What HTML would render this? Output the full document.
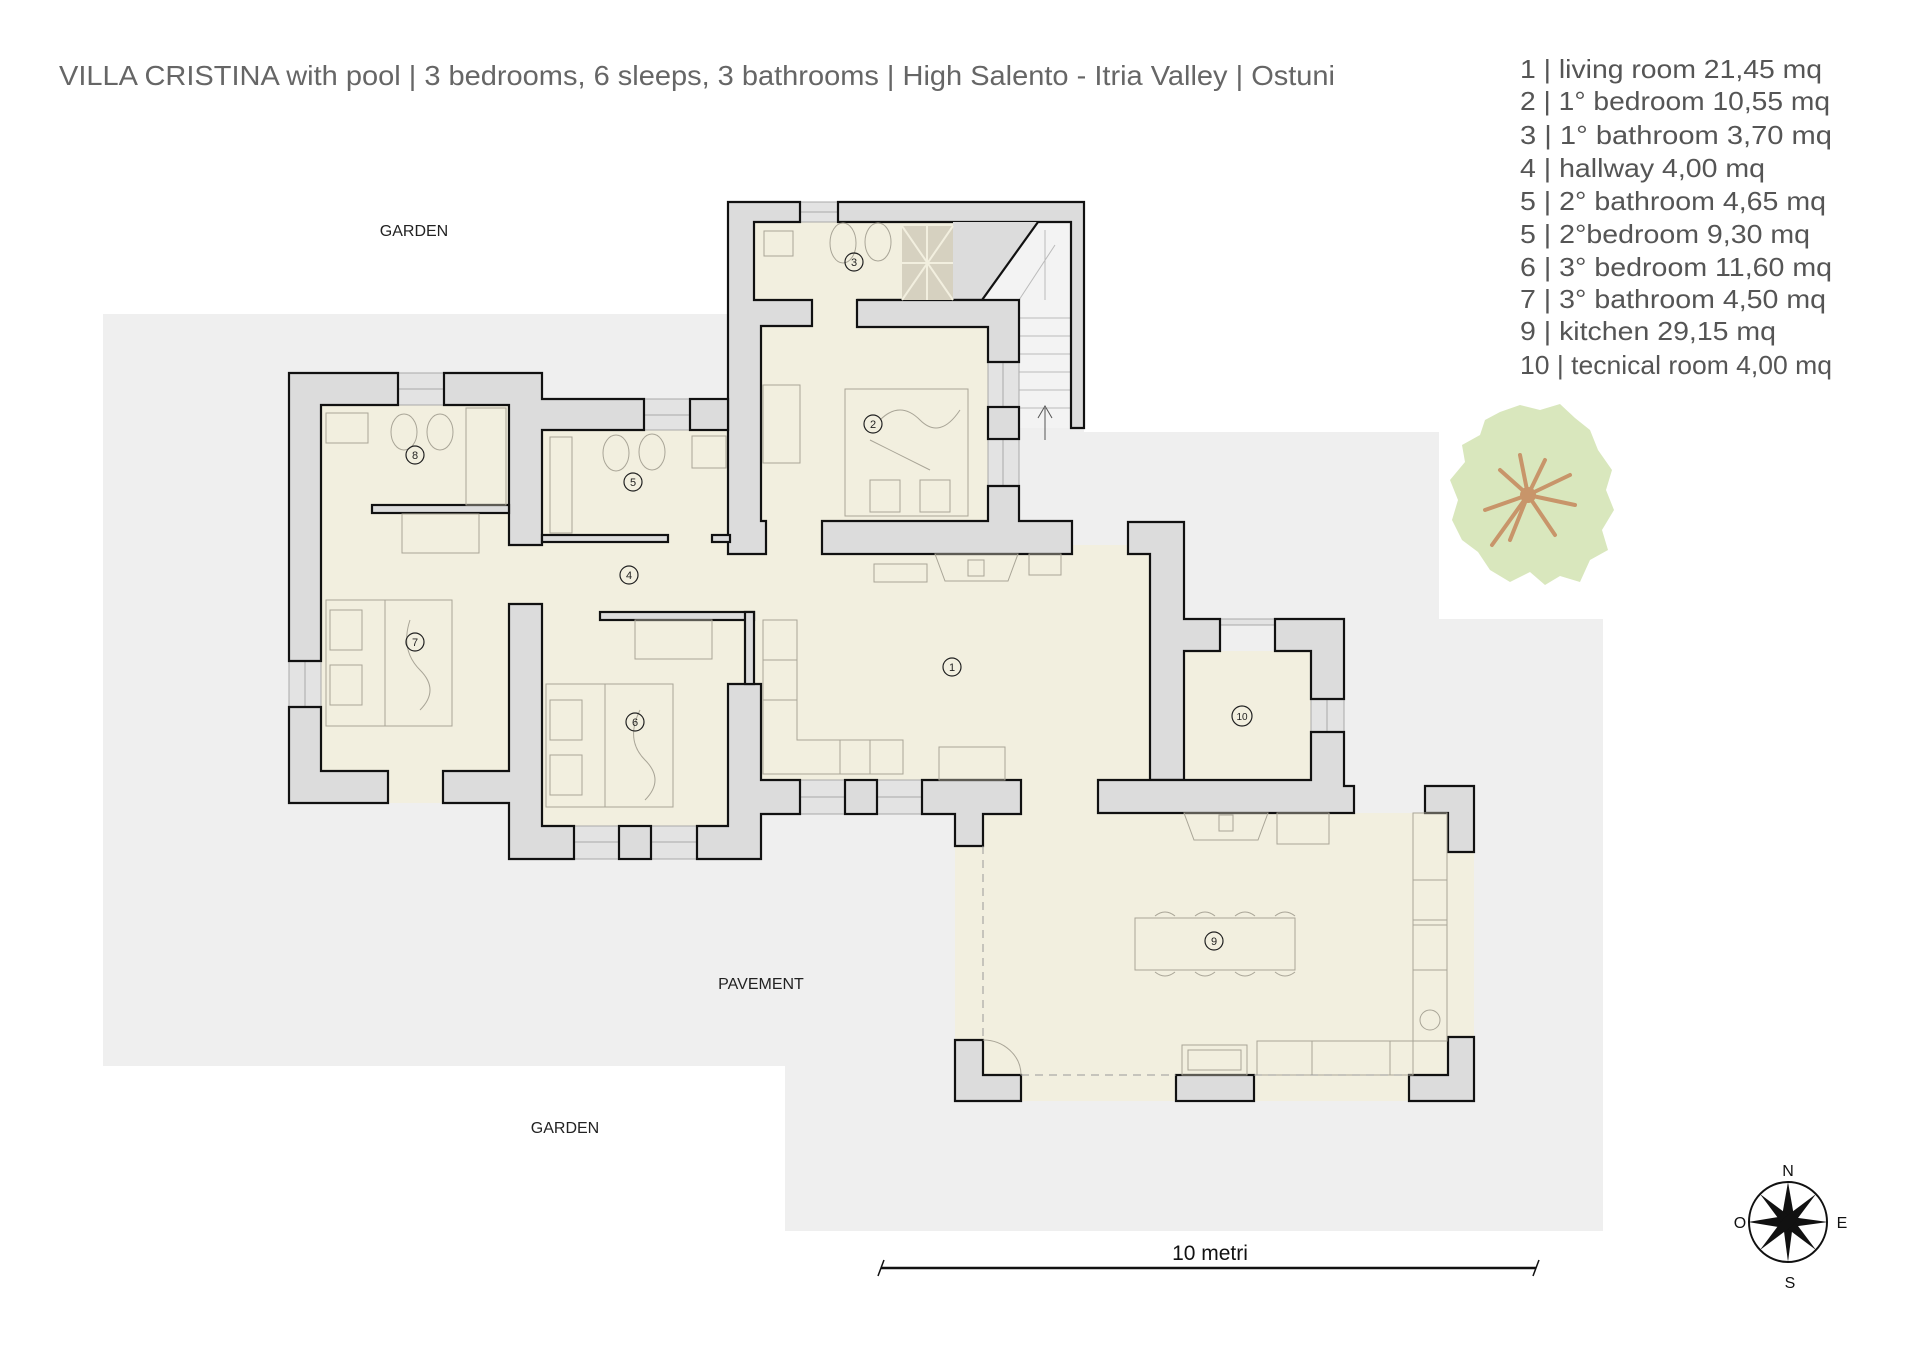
<!DOCTYPE html>
<html><head><meta charset="utf-8"><style>
html,body{margin:0;padding:0;background:#fff;}
svg{display:block;}
text{font-family:"Liberation Sans",sans-serif;}
</style></head><body>
<svg width="1920" height="1357" viewBox="0 0 1920 1357" xmlns="http://www.w3.org/2000/svg">
<rect width="1920" height="1357" fill="#fff"/>
<polygon points="103,314 1084,314 1084,432 1439,432 1439,619 1603,619 1603,1231 785,1231 785,1066 103,1066" fill="#efefef"/>
<g fill="#f2efdf">
<rect x="754" y="222" width="234" height="332"/>
<rect x="321" y="405" width="188" height="398"/>
<rect x="509" y="430" width="219" height="115"/>
<rect x="509" y="545" width="641" height="235"/>
<rect x="542" y="545" width="186" height="281"/>
<rect x="1184" y="651" width="127" height="129"/>
<rect x="1021" y="780" width="77" height="33"/>
<rect x="955" y="813" width="519" height="288"/>
</g>
<polygon points="1038,222 1071,222 1071,428 1019,428 1019,300 982,300" fill="#f3f3f3"/>
<g stroke="#bbb" stroke-width="1">
<line x1="1019" y1="318" x2="1071" y2="318"/><line x1="1019" y1="336" x2="1071" y2="336"/>
<line x1="1019" y1="354" x2="1071" y2="354"/><line x1="1019" y1="372" x2="1071" y2="372"/>
<line x1="1019" y1="390" x2="1071" y2="390"/><line x1="1019" y1="408" x2="1071" y2="408"/>
<line x1="1019" y1="300" x2="1019" y2="428"/><line x1="1019" y1="300" x2="1055" y2="245"/>
<line x1="1045" y1="300" x2="1045" y2="230"/>
</g>
<g stroke="#555" stroke-width="1" fill="none"><line x1="1045" y1="408" x2="1045" y2="440"/><polyline points="1038,418 1045,406 1052,418"/></g>
<g fill="#e3e3e3" stroke="#aaa" stroke-width="1">
<rect x="398" y="373" width="46" height="32"/><rect x="644" y="399" width="46" height="31"/>
<rect x="800" y="202" width="38" height="20"/><rect x="988" y="362" width="31" height="45"/>
<rect x="988" y="439" width="31" height="47"/><rect x="289" y="661" width="32" height="46"/>
<rect x="574" y="826" width="45" height="33"/><rect x="651" y="826" width="46" height="33"/>
<rect x="800" y="780" width="45" height="34"/><rect x="877" y="780" width="45" height="34"/>
<rect x="1311" y="699" width="33" height="33"/><rect x="1220" y="619" width="55" height="6"/>
</g>
<g stroke="#aaa" stroke-width="1">
<line x1="398" y1="389" x2="444" y2="389"/><line x1="644" y1="415" x2="690" y2="415"/>
<line x1="800" y1="212" x2="838" y2="212"/><line x1="1003" y1="362" x2="1003" y2="407"/>
<line x1="1003" y1="439" x2="1003" y2="486"/><line x1="305" y1="661" x2="305" y2="707"/>
<line x1="574" y1="842" x2="619" y2="842"/><line x1="651" y1="842" x2="697" y2="842"/>
<line x1="800" y1="797" x2="845" y2="797"/><line x1="877" y1="797" x2="922" y2="797"/>
<line x1="1327" y1="699" x2="1327" y2="732"/>
</g>
<g fill="#dcdcdc" stroke="#111" stroke-width="2.2" stroke-linejoin="miter">
<path d="M728,202 H800 V222 H754 V300 H812 V326 H761 V521 H766 V554 H728 Z"/>
<path d="M838,202 H1084 V428 H1071 V222 H838 Z"/>
<path d="M953,222 H1038 L982,300 H953 Z" stroke="none"/>
<path d="M857,300 H982 L1038,222" fill="none"/>
<path d="M857,300 H1019 V362 H988 V327 H857 Z"/>
<rect x="988" y="407" width="31" height="32"/>
<path d="M988,486 H1019 V521 H1072 V554 H822 V521 H988 Z"/>
<rect x="712" y="535" width="18" height="7"/>
<path d="M1128,522 H1184 V619 H1220 V651 H1184 V780 H1150 V554 H1128 Z"/>
<path d="M1275,619 H1344 V699 H1311 V651 H1275 Z"/>
<path d="M1098,780 H1311 V732 H1344 V786 H1354 V813 H1098 Z"/>
<path d="M922,780 H1021 V814 H983 V846 H955 V814 H922 Z"/>
<rect x="845" y="780" width="32" height="34"/>
<path d="M1425,786 H1474 V852 H1448 V813 H1425 Z"/>
<path d="M955,1040 H983 V1075 H1021 V1101 H955 Z"/>
<rect x="1176" y="1075" width="78" height="26"/>
<path d="M1448,1037 H1474 V1101 H1409 V1075 H1448 Z"/>
<path d="M289,373 H398 V405 H321 V661 H289 Z"/>
<path d="M444,373 H542 V399 H644 V430 H542 V545 H509 V405 H444 Z"/>
<rect x="690" y="399" width="38" height="31"/>
<path d="M289,707 H321 V771 H388 V803 H289 Z"/>
<path d="M443,771 H509 V604 H542 V826 H574 V859 H509 V803 H443 Z"/>
<rect x="619" y="826" width="32" height="33"/>
<path d="M697,826 H728 V684 H761 V780 H800 V814 H761 V859 H697 Z"/>
<rect x="372" y="505" width="137" height="8"/>
<rect x="542" y="535" width="126" height="7"/>
<rect x="600" y="612" width="154" height="8"/>
<rect x="745" y="612" width="9" height="72"/>
</g>
<g fill="none" stroke="#a9a597" stroke-width="1">
<rect x="845" y="389" width="123" height="127"/><rect x="870" y="480" width="30" height="32"/><rect x="920" y="480" width="30" height="32"/>
<path d="M870,440 L930,470 M880,420 q20,-20 40,0 t40,-10"/>
<rect x="326" y="600" width="126" height="126"/><rect x="330" y="610" width="32" height="40"/><rect x="330" y="665" width="32" height="40"/><line x1="385" y1="600" x2="385" y2="726"/>
<path d="M410,620 q-10,30 10,50 t0,40"/>
<rect x="546" y="684" width="127" height="123"/><rect x="550" y="700" width="32" height="40"/><rect x="550" y="755" width="32" height="40"/><line x1="605" y1="684" x2="605" y2="807"/>
<path d="M640,710 q-15,30 5,50 t0,40"/>
<rect x="763" y="385" width="37" height="78"/><rect x="402" y="514" width="77" height="39"/><rect x="635" y="620" width="77" height="39"/>
<path d="M763,774 V620 H797 V740 H903 V774 Z"/><line x1="763" y1="660" x2="797" y2="660"/><line x1="763" y1="700" x2="797" y2="700"/><line x1="840" y1="740" x2="840" y2="774"/><line x1="870" y1="740" x2="870" y2="774"/>
<rect x="939" y="747" width="66" height="33"/>
<rect x="874" y="564" width="53" height="18"/><path d="M935,554 H1018 L1008,581 H945 Z"/><rect x="968" y="560" width="16" height="16"/><rect x="1029" y="554" width="32" height="21"/>
<path d="M1184,813 H1268 L1258,840 H1194 Z"/><rect x="1219" y="815" width="14" height="16"/><rect x="1277" y="813" width="52" height="31"/>
<rect x="1413" y="813" width="34" height="228"/><rect x="1257" y="1041" width="156" height="34"/><line x1="1312" y1="1041" x2="1312" y2="1075"/><line x1="1390" y1="1041" x2="1390" y2="1075"/>
<rect x="1413" y="880" width="34" height="40"/><rect x="1413" y="925" width="34" height="45"/><circle cx="1430" cy="1020" r="10"/>
<rect x="1182" y="1045" width="65" height="30"/><rect x="1188" y="1050" width="53" height="20"/>
<rect x="1135" y="918" width="160" height="52"/>
<path d="M1155,916 q10,-8 20,0 M1195,916 q10,-8 20,0 M1235,916 q10,-8 20,0 M1275,916 q10,-8 20,0 M1155,972 q10,8 20,0 M1195,972 q10,8 20,0 M1235,972 q10,8 20,0 M1275,972 q10,8 20,0"/>
<path d="M983,1040 A38,35 0 0 1 1021,1075"/>
<rect x="764" y="231" width="29" height="25"/><ellipse cx="843" cy="243" rx="13" ry="20"/><ellipse cx="878" cy="242" rx="13" ry="19"/>
<rect x="326" y="413" width="42" height="30"/><ellipse cx="404" cy="432" rx="13" ry="18"/><ellipse cx="440" cy="432" rx="13" ry="18"/><rect x="466" y="408" width="40" height="97"/>
<rect x="550" y="437" width="22" height="96"/><ellipse cx="616" cy="453" rx="13" ry="18"/><ellipse cx="652" cy="452" rx="13" ry="18"/><rect x="692" y="436" width="34" height="32"/>
</g>
<rect x="902" y="226" width="51" height="74" fill="#d6d1c0"/>
<g stroke="#f2efdf" stroke-width="2"><line x1="902" y1="226" x2="953" y2="300"/><line x1="953" y1="226" x2="902" y2="300"/><line x1="927" y1="226" x2="927" y2="300"/><line x1="902" y1="263" x2="953" y2="263"/></g>
<g fill="none" stroke="#999" stroke-width="1" stroke-dasharray="8,6"><line x1="983" y1="846" x2="983" y2="1040"/><line x1="1021" y1="1075" x2="1176" y2="1075"/><line x1="1254" y1="1075" x2="1409" y2="1075"/></g>
<g fill="none" stroke="#222" stroke-width="1.2">
<circle cx="952" cy="667" r="9"/><circle cx="873" cy="424" r="9"/><circle cx="854" cy="262" r="9"/><circle cx="629" cy="575" r="9"/><circle cx="633" cy="482" r="9"/><circle cx="635" cy="722" r="9"/><circle cx="415" cy="642" r="9"/><circle cx="415" cy="455" r="9"/><circle cx="1214" cy="941" r="9"/><circle cx="1242" cy="716" r="10"/>
</g>
<g font-size="11" fill="#222" text-anchor="middle">
<text x="952" y="671">1</text><text x="873" y="428">2</text><text x="854" y="266">3</text><text x="629" y="579">4</text><text x="633" y="486">5</text><text x="635" y="726">6</text><text x="415" y="646">7</text><text x="415" y="459">8</text><text x="1214" y="945">9</text><text x="1242" y="720" font-size="10">10</text>
</g>
<g font-size="16" fill="#222" text-anchor="middle">
<text x="414" y="236">GARDEN</text><text x="761" y="989">PAVEMENT</text><text x="565" y="1133">GARDEN</text>
</g>
<text x="59" y="85" font-size="28" fill="#666" textLength="1276" lengthAdjust="spacingAndGlyphs">VILLA CRISTINA  with pool | 3 bedrooms, 6 sleeps, 3 bathrooms | High Salento - Itria Valley | Ostuni</text>
<g font-size="26" fill="#555">
<text x="1520" y="78" textLength="302" lengthAdjust="spacingAndGlyphs">1 | living room 21,45 mq</text>
<text x="1520" y="110" textLength="310" lengthAdjust="spacingAndGlyphs">2 | 1° bedroom 10,55 mq</text>
<text x="1520" y="144" textLength="312" lengthAdjust="spacingAndGlyphs">3 | 1° bathroom  3,70 mq</text>
<text x="1520" y="177" textLength="245" lengthAdjust="spacingAndGlyphs">4 | hallway 4,00 mq</text>
<text x="1520" y="210" textLength="306" lengthAdjust="spacingAndGlyphs">5 | 2° bathroom 4,65 mq</text>
<text x="1520" y="243" textLength="290" lengthAdjust="spacingAndGlyphs">5 | 2°bedroom  9,30 mq</text>
<text x="1520" y="276" textLength="312" lengthAdjust="spacingAndGlyphs">6 | 3° bedroom 11,60 mq</text>
<text x="1520" y="308" textLength="306" lengthAdjust="spacingAndGlyphs">7 | 3° bathroom 4,50 mq</text>
<text x="1520" y="340" textLength="256" lengthAdjust="spacingAndGlyphs">9 | kitchen 29,15 mq</text>
<text x="1520" y="374" textLength="312" lengthAdjust="spacingAndGlyphs">10 | tecnical room 4,00 mq</text>
</g>
<path d="M1500,412 L1520,405 L1540,410 L1560,404 L1575,418 L1590,430 L1598,450 L1612,470 L1606,490 L1614,510 L1602,530 L1608,550 L1590,560 L1580,582 L1560,576 L1545,585 L1530,572 L1510,582 L1490,570 L1478,552 L1462,540 L1452,520 L1458,500 L1450,480 L1465,462 L1462,445 L1480,435 L1485,420 Z" fill="#d9e7bd"/>
<g stroke="#c8956a" stroke-width="4" fill="none" stroke-linecap="round">
<path d="M1528,495 L1500,470 M1528,495 L1520,455 M1528,495 L1545,460 M1528,495 L1570,475 M1528,495 L1575,505 M1528,495 L1555,535 M1528,495 L1510,540 M1528,495 L1485,510 M1528,495 L1492,545"/>
</g>
<circle cx="1528" cy="495" r="8" fill="#c8956a"/>
<line x1="881" y1="1268" x2="1536" y2="1268" stroke="#111" stroke-width="2.5"/>
<line x1="878" y1="1276" x2="884" y2="1260" stroke="#111" stroke-width="1.5"/>
<line x1="1533" y1="1276" x2="1539" y2="1260" stroke="#111" stroke-width="1.5"/>
<text x="1210" y="1260" font-size="21" fill="#111" text-anchor="middle">10 metri</text>
<ellipse cx="1788" cy="1222" rx="39" ry="40" fill="none" stroke="#111" stroke-width="2"/>
<g fill="#111">
<polygon points="1788,1182 1794,1216 1788,1262 1782,1216"/>
<polygon points="1748,1222 1784,1216 1828,1222 1784,1228"/>
<polygon points="1760,1194 1792,1218 1816,1250 1784,1226"/>
<polygon points="1816,1194 1792,1226 1760,1250 1784,1218"/>
</g>
<g font-family="Liberation Serif" font-size="16" fill="#111" text-anchor="middle">
<text x="1788" y="1176">N</text><text x="1790" y="1288">S</text><text x="1740" y="1228">O</text><text x="1842" y="1228">E</text>
</g>
</svg>
</body></html>
